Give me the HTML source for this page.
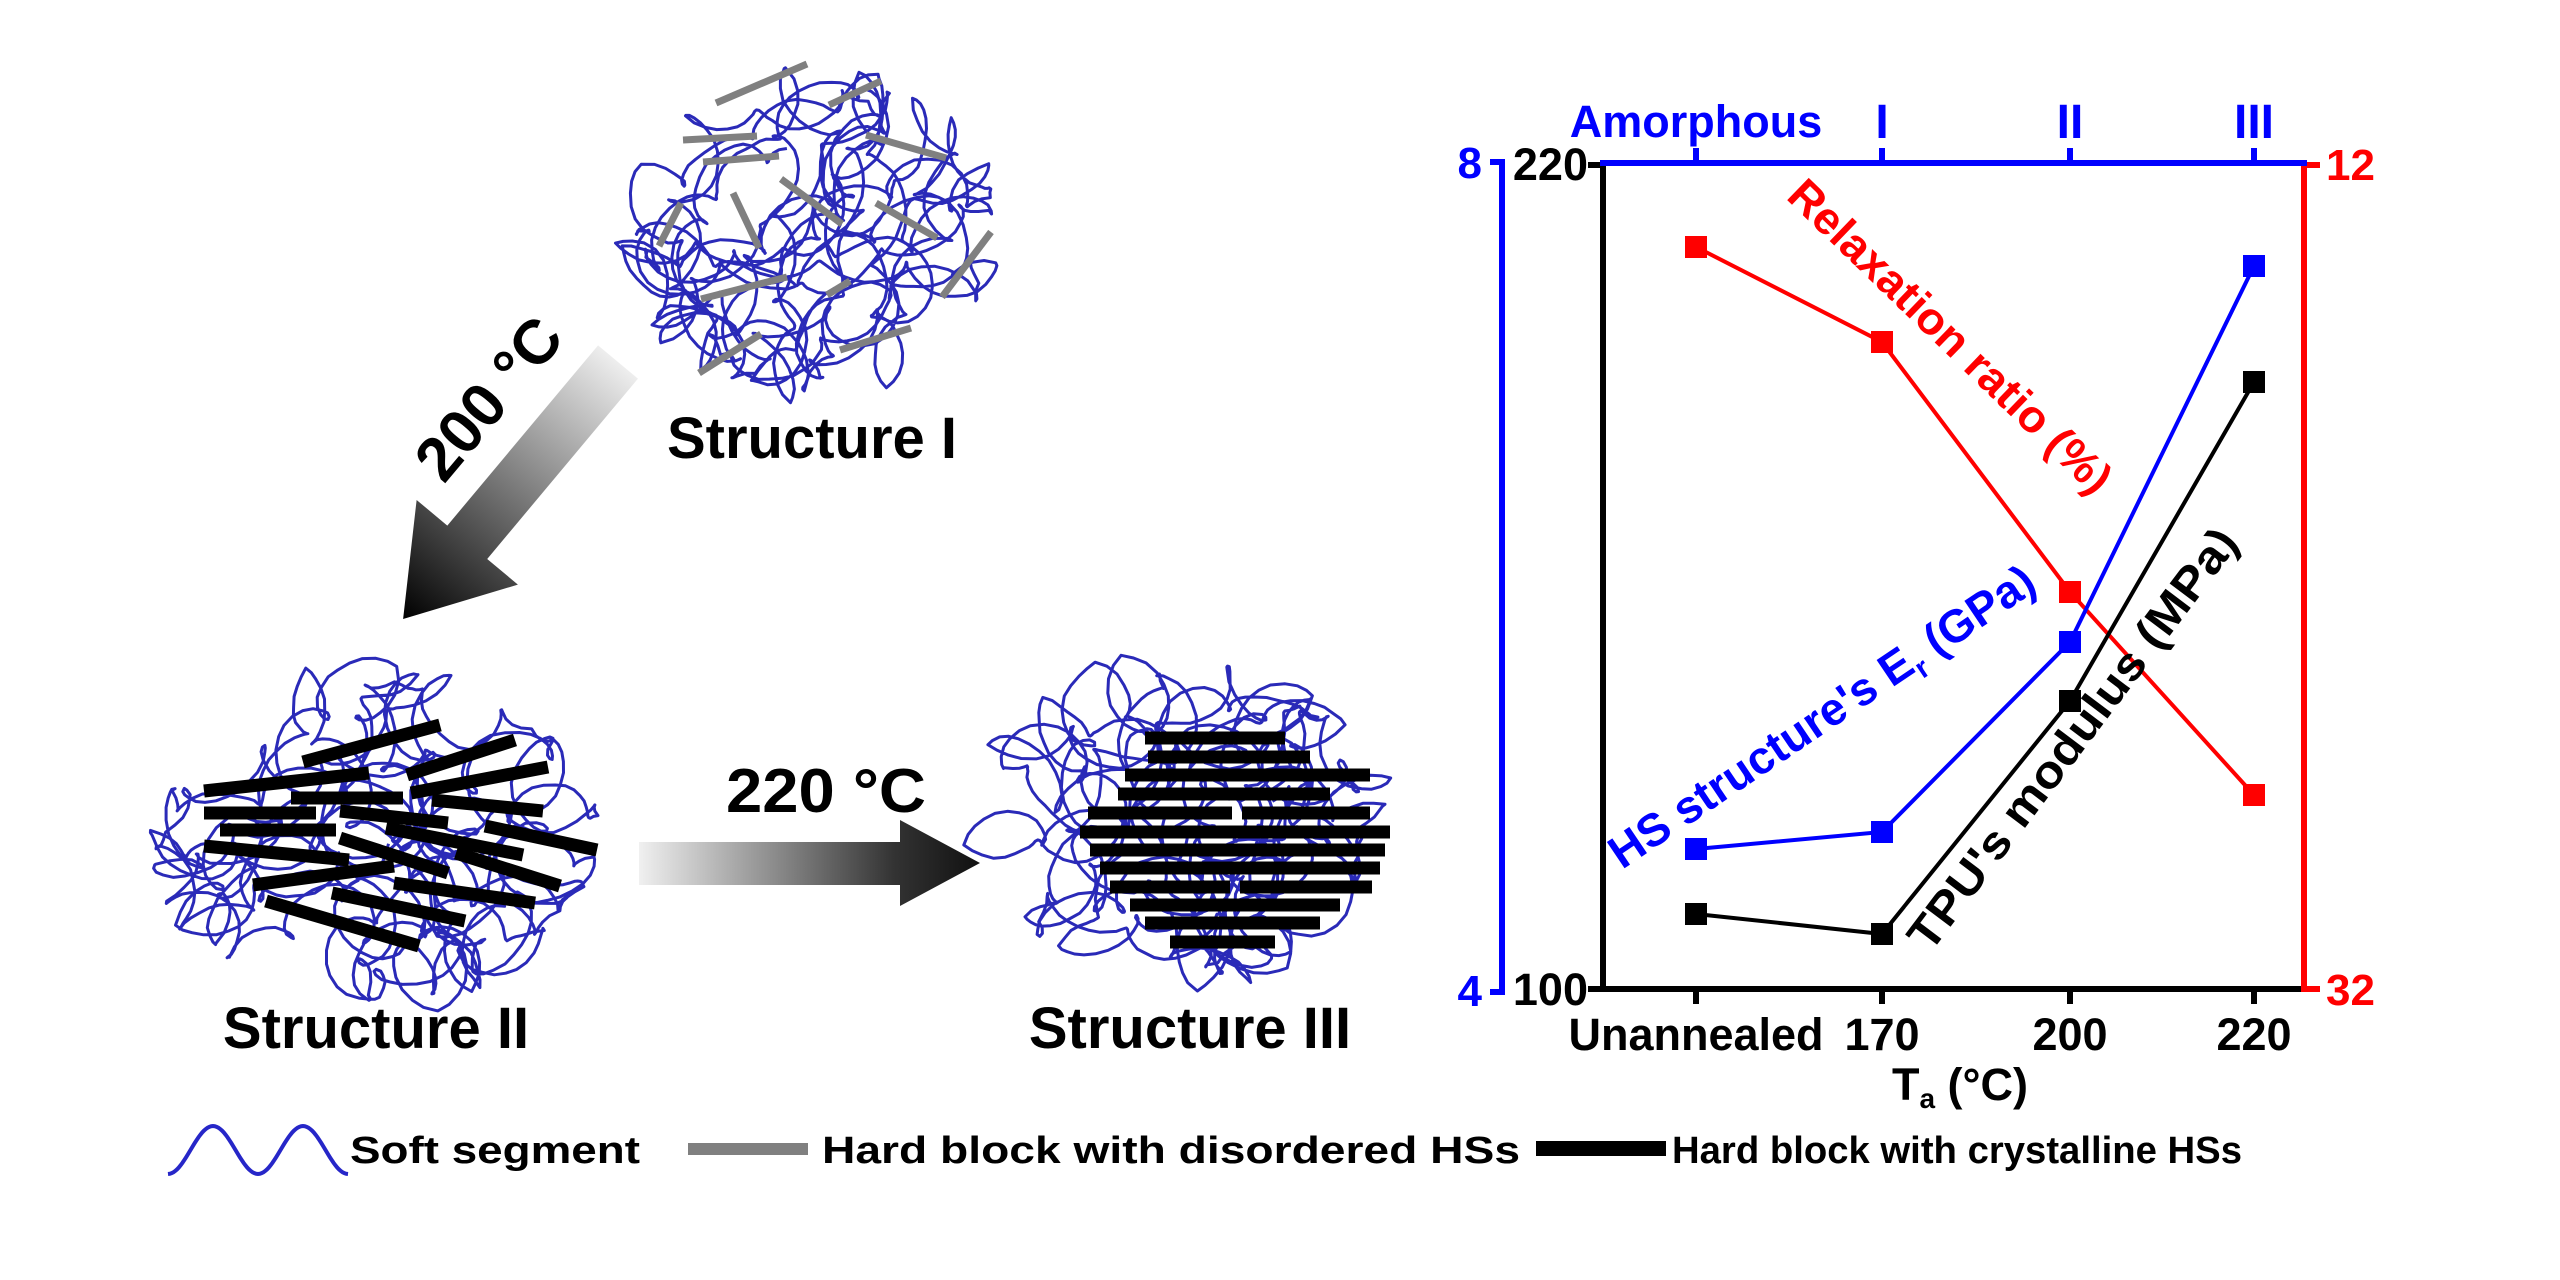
<!DOCTYPE html>
<html><head><meta charset="utf-8">
<style>
html,body{margin:0;padding:0;background:#fff;}
svg{display:block;}
text{font-family:"Liberation Sans",Arial,sans-serif;font-weight:bold;}
</style></head>
<body>
<svg id="s" xmlns="http://www.w3.org/2000/svg" width="2560" height="1280" viewBox="0 0 2560 1280">
<defs>
<linearGradient id="g1" x1="0" y1="0" x2="335" y2="0" gradientUnits="userSpaceOnUse">
<stop offset="0" stop-color="#eeeeee"/><stop offset="1" stop-color="#000"/></linearGradient>
<linearGradient id="g2" x1="639" y1="0" x2="979" y2="0" gradientUnits="userSpaceOnUse">
<stop offset="0" stop-color="#f0f0f0"/><stop offset="0.75" stop-color="#333"/><stop offset="1" stop-color="#111"/></linearGradient>
</defs>
<g id="blobs"></g>

<!-- Arrow 200 -->
<polygon points="0,-26 235,-26 235,-66 335,0 235,66 235,26 0,26" fill="url(#g1)" transform="translate(618,362) rotate(129.9)"/>
<text x="0" y="0" font-size="62" text-anchor="middle" transform="translate(505,412) rotate(-50)">200 °C</text>
<text x="812" y="458" font-size="58" text-anchor="middle">Structure I</text>

<!-- Arrow 220 -->
<polygon points="639,842 900,842 900,820 980,863 900,906 900,885 639,885" fill="url(#g2)"/>
<text x="826" y="812" font-size="62" text-anchor="middle" textLength="200" lengthAdjust="spacingAndGlyphs">220 °C</text>
<text x="376" y="1048" font-size="58" text-anchor="middle">Structure II</text>
<text x="1190" y="1048" font-size="58" text-anchor="middle">Structure III</text>

<!-- Chart -->
<g stroke-width="6" fill="none">
<line x1="1502" y1="162" x2="1502" y2="992" stroke="#0000ff"/>
<line x1="1490" y1="162" x2="1505" y2="162" stroke="#0000ff"/>
<line x1="1490" y1="992" x2="1505" y2="992" stroke="#0000ff"/>
<line x1="1603" y1="165" x2="1603" y2="992" stroke="#000"/>
<line x1="1588" y1="165" x2="1603" y2="165" stroke="#000"/>
<line x1="1588" y1="989" x2="1603" y2="989" stroke="#000"/>
<line x1="1600" y1="989" x2="2306" y2="989" stroke="#000"/>
<line x1="2304" y1="162" x2="2304" y2="992" stroke="#ff0000"/>
<line x1="2304" y1="165" x2="2320" y2="165" stroke="#ff0000"/>
<line x1="2304" y1="989" x2="2320" y2="989" stroke="#ff0000"/>
<line x1="1600" y1="163" x2="2307" y2="163" stroke="#0000ff"/>
<g stroke="#0000ff"><line x1="1696" y1="148" x2="1696" y2="163"/><line x1="1882" y1="148" x2="1882" y2="163"/><line x1="2070" y1="148" x2="2070" y2="163"/><line x1="2254" y1="148" x2="2254" y2="163"/></g>
<g stroke="#000"><line x1="1696" y1="989" x2="1696" y2="1004"/><line x1="1882" y1="989" x2="1882" y2="1004"/><line x1="2070" y1="989" x2="2070" y2="1004"/><line x1="2254" y1="989" x2="2254" y2="1004"/></g>
<polyline points="1696,247 1882,342 2070,592 2254,795" stroke="#ff0000" stroke-width="4"/>
<polyline points="1696,849 1882,832 2070,642 2254,266" stroke="#0000ff" stroke-width="4"/>
<polyline points="1696,914 1882,934 2070,701 2254,382" stroke="#000" stroke-width="4"/>
</g>
<g fill="#ff0000"><rect x="1685" y="236" width="22" height="22"/><rect x="1871" y="331" width="22" height="22"/><rect x="2059" y="581" width="22" height="22"/><rect x="2243" y="784" width="22" height="22"/></g>
<g fill="#0000ff"><rect x="1685" y="838" width="22" height="22"/><rect x="1871" y="821" width="22" height="22"/><rect x="2059" y="631" width="22" height="22"/><rect x="2243" y="255" width="22" height="22"/></g>
<g fill="#000"><rect x="1685" y="903" width="22" height="22"/><rect x="1871" y="923" width="22" height="22"/><rect x="2059" y="690" width="22" height="22"/><rect x="2243" y="371" width="22" height="22"/></g>

<g font-size="44" fill="#0000ff">
<text x="1482" y="178" text-anchor="end">8</text>
<text x="1482" y="1006" text-anchor="end">4</text>
<text x="1696" y="137" text-anchor="middle" font-size="45">Amorphous</text>
</g>
<g font-size="48" fill="#0000ff" style="font-family:'Liberation Serif',serif;font-weight:bold">
<text x="1882" y="138" text-anchor="middle">I</text>
<text x="2070" y="138" text-anchor="middle">II</text>
<text x="2254" y="138" text-anchor="middle">III</text>
</g>
<g font-size="45" fill="#000">
<text x="1588" y="180" text-anchor="end">220</text>
<text x="1588" y="1005" text-anchor="end">100</text>
<text x="1696" y="1050" text-anchor="middle">Unannealed</text>
<text x="1882" y="1050" text-anchor="middle">170</text>
<text x="2070" y="1050" text-anchor="middle">200</text>
<text x="2254" y="1050" text-anchor="middle">220</text>
<text x="1960" y="1100" text-anchor="middle">T<tspan font-size="28" dy="8">a</tspan><tspan dy="-8"> (°C)</tspan></text>
</g>
<g font-size="44" fill="#ff0000">
<text x="2326" y="180">12</text>
<text x="2326" y="1005">32</text>
</g>
<text x="0" y="0" font-size="45" fill="#ff0000" transform="translate(1785,198) rotate(44)" textLength="430" lengthAdjust="spacingAndGlyphs">Relaxation ratio (%)</text>
<text x="0" y="0" font-size="46" fill="#0000ff" transform="translate(1622,870) rotate(-34)">HS structure's E<tspan font-size="29" dy="10">r</tspan><tspan dy="-10"> (GPa)</tspan></text>
<text x="0" y="0" font-size="46" fill="#000" transform="translate(1930,954) rotate(-53)" textLength="515" lengthAdjust="spacingAndGlyphs">TPU's modulus (MPa)</text>

<!-- Legend -->
<path id="wave" d="M168,1150" stroke="#2626c8" stroke-width="4" fill="none"/>
<text x="350" y="1163" font-size="38" textLength="290" lengthAdjust="spacingAndGlyphs">Soft segment</text>
<rect x="688" y="1143" width="120" height="12" fill="#808080"/>
<text x="822" y="1163" font-size="38" textLength="698" lengthAdjust="spacingAndGlyphs">Hard block with disordered HSs</text>
<rect x="1536" y="1141" width="130" height="15" fill="#000"/>
<text x="1672" y="1163" font-size="38" textLength="570" lengthAdjust="spacingAndGlyphs">Hard block with crystalline HSs</text>
</svg>
<script>
(function(){
var seed=12345;function r(){seed=(seed*16807)%2147483647;return (seed-1)/2147483646;}
var NS="http://www.w3.org/2000/svg",g=document.getElementById('blobs');
var lp=document.getElementById('wave');
var d="";for(var i=0;i<=100;i++){var x=168+i*1.8;var y=1150+24*Math.sin((i/100)*Math.PI*4+Math.PI/2);d+=(i?"L":"M")+x.toFixed(1)+","+y.toFixed(1);}
lp.setAttribute('d',d);
function blob(cx,cy,rx,ry,n,loopR){
  var pts=[],x=cx,y=cy,ang=r()*6.28,ph=0;
  for(var k=0;k<n;k++){
    ang+= (r()-0.5)*0.6;
    var nx=x+Math.cos(ang)*6, ny=y+Math.sin(ang)*6;
    var ex=(nx-cx)/rx, ey=(ny-cy)/ry;
    if(ex*ex+ey*ey>1){ang=Math.atan2(cy-y,cx-x)+(r()-0.5)*1.5;nx=x+Math.cos(ang)*6;ny=y+Math.sin(ang)*6;}
    x=nx;y=ny;
    ph+=0.35+r()*0.15;
    var lr=loopR*(0.6+0.6*Math.abs(Math.sin(k*0.05)));
    pts.push([x+Math.cos(ph)*lr,y+Math.sin(ph)*lr]);
  }
  var s="M"+pts[0][0].toFixed(1)+","+pts[0][1].toFixed(1);
  for(var j=1;j<pts.length;j++)s+="L"+pts[j][0].toFixed(1)+","+pts[j][1].toFixed(1);
  var p=document.createElementNS(NS,'path');p.setAttribute('d',s);p.setAttribute('fill','none');
  p.setAttribute('stroke','#2a2ab8');p.setAttribute('stroke-width','3');p.setAttribute('stroke-linejoin','round');g.appendChild(p);
}
function bar(x1,y1,x2,y2,w,c){var l=document.createElementNS(NS,'line');l.setAttribute('x1',x1);l.setAttribute('y1',y1);l.setAttribute('x2',x2);l.setAttribute('y2',y2);l.setAttribute('stroke',c);l.setAttribute('stroke-width',w);g.appendChild(l);}
blob(815,235,188,160,1500,14);
var gI=[[716,103,807,64],[829,105,881,81],[683,140,757,136],[703,162,779,156],[866,135,946,158],[659,246,681,203],[733,193,759,248],[781,179,842,224],[876,203,937,238],[701,299,787,277],[827,295,850,281],[942,297,991,232],[699,373,761,334],[840,350,911,328]];
gI.forEach(function(b){bar(b[0],b[1],b[2],b[3],7,'#808080');});
blob(380,834,232,165,1500,16);
var bII=[[303,762,440,725],[407,775,515,740],[204,791,369,773],[291,798,403,798],[411,793,548,767],[204,813,316,813],[340,811,448,823],[432,800,543,811],[220,830,336,830],[386,828,523,855],[485,826,597,850],[204,846,349,860],[340,838,448,873],[456,853,560,886],[253,885,394,866],[394,883,535,903],[332,893,465,921],[266,901,419,946]];
bII.forEach(function(b){bar(b[0],b[1],b[2],b[3],13,'#000');});
blob(1180,822,205,160,1500,16);
var rows=[[738,1145,1285],[757,1148,1310],[775,1125,1370],[794,1118,1330],[813,1088,1232],[813,1242,1370],[832,1080,1390],[850,1090,1385],[868,1100,1380],[887,1110,1230],[887,1240,1372],[905,1130,1340],[923,1145,1320],[942,1170,1275]];
rows.forEach(function(b){bar(b[1],b[0],b[2],b[0],13,'#000');});
})();
</script>
</body></html>
